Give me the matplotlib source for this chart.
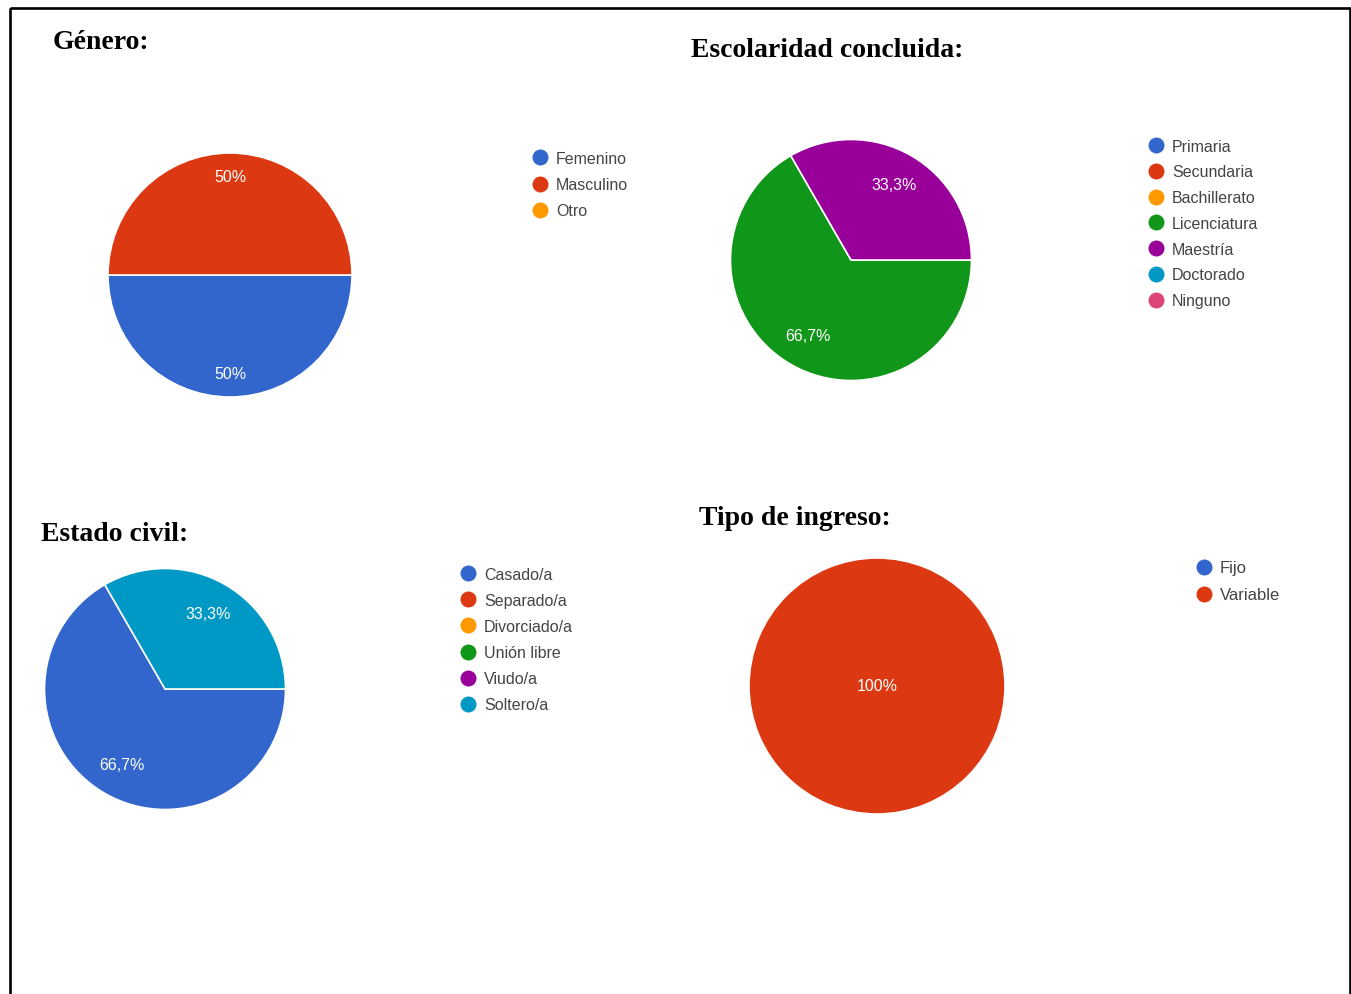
"""
Four survey pie charts (Google Forms style) on one page.
"""

import matplotlib
matplotlib.use("Agg")
import matplotlib.pyplot as plt
from matplotlib.patches import Rectangle

W, H = 1351, 995

## Colours (Google charts palette)
BLUE, RED, ORANGE, GREEN = '#3366cc', '#dc3912', '#ff9900', '#109618'
PURPLE, CYAN, PINK = '#990099', '#0099c6', '#dd4477'

## Data
genero_labels = ['Femenino', 'Masculino', 'Otro']
genero_values = [1, 1, 0]
genero_colors = [BLUE, RED, ORANGE]

escolaridad_labels = ['Primaria', 'Secundaria', 'Bachillerato', 'Licenciatura',
                      'Maestría', 'Doctorado', 'Ninguno']
escolaridad_values = [0, 0, 0, 2, 1, 0, 0]
escolaridad_colors = [BLUE, RED, ORANGE, GREEN, PURPLE, CYAN, PINK]

civil_labels = ['Casado/a', 'Separado/a', 'Divorciado/a', 'Unión libre',
                'Viudo/a', 'Soltero/a']
civil_values = [2, 0, 0, 0, 0, 1]
civil_colors = [BLUE, RED, ORANGE, GREEN, PURPLE, CYAN]

ingreso_labels = ['Fijo', 'Variable']
ingreso_values = [0, 3]
ingreso_colors = [BLUE, RED]

TITLE_FONT = dict(family='Liberation Serif', weight='bold', size=20)
TEXT_FONT = ['Liberation Sans', 'DejaVu Sans']


def _pct(p):
    if abs(p - round(p)) < 0.05:
        return '%d%%' % round(p)
    return ('%.1f%%' % p).replace('.', ',')


def _pie(fig, cx, cy, r, values, colors, startangle, pctdistance):
    """ Pie centred at pixel (cx, cy) with radius r; zero slices skipped. """
    ax = fig.add_axes(((cx - r) / W, 1 - (cy + r) / H, 2 * r / W, 2 * r / H))
    vals = [v for v in values if v > 0]
    cols = [c for v, c in zip(values, colors) if v > 0]
    ax.pie(vals, colors=cols, startangle=startangle, counterclock=True,
           autopct=_pct, pctdistance=pctdistance,
           wedgeprops=dict(edgecolor='white', linewidth=1.2),
           textprops=dict(color='white', fontsize=11.5, family=TEXT_FONT))
    ax.set_xlim(-1, 1)
    ax.set_ylim(-1, 1)
    ax.set_axis_off()
    return ax


def _legend(ax, labels, colors, x, y, step, size=11.5):
    """ Column of coloured dots with labels, first dot at pixel (x, y). """
    for i, (lab, col) in enumerate(zip(labels, colors)):
        yy = y + i * step
        ax.plot([x], [yy], 'o', color=col, markersize=11.5,
                markeredgewidth=0)
        ax.text(x + 16, yy + 1, lab, fontsize=size, family=TEXT_FONT,
                color='#444444', va='center', ha='left')


fig = plt.figure(figsize=(W / 100, H / 100), dpi=100)
fig.patch.set_facecolor('white')

## Page overlay in pixel coordinates
page = fig.add_axes((0, 0, 1, 1))
page.set_xlim(0, W)
page.set_ylim(H, 0)
page.set_axis_off()
page.add_patch(Rectangle((10, 9), 1340, 1000, fill=False, edgecolor='black',
                         linewidth=1.9, clip_on=False))

## Titles
page.text(53, 49, 'Género:', va='baseline', **TITLE_FONT)
page.text(691, 57, 'Escolaridad concluida:', va='baseline', **TITLE_FONT)
page.text(41, 541, 'Estado civil:', va='baseline', **TITLE_FONT)
page.text(699, 525, 'Tipo de ingreso:', va='baseline', **TITLE_FONT)

## Legends
_legend(page, genero_labels, genero_colors, 540, 158, 26.5)
_legend(page, escolaridad_labels, escolaridad_colors, 1156, 146, 25.8)
_legend(page, civil_labels, civil_colors, 468, 574, 26.2)
_legend(page, ingreso_labels, ingreso_colors, 1204, 568, 27, size=12)

## Pies
_pie(fig, 230, 276, 122, genero_values, genero_colors, 180, 0.81)
_pie(fig, 851, 261, 120.5, escolaridad_values, escolaridad_colors, 120, 0.72)
_pie(fig, 165, 690, 120.5, civil_values, civil_colors, 120, 0.72)
_pie(fig, 877, 687, 128, ingreso_values, ingreso_colors, 90, 0.0)

plt.savefig('out.png', dpi=100)
